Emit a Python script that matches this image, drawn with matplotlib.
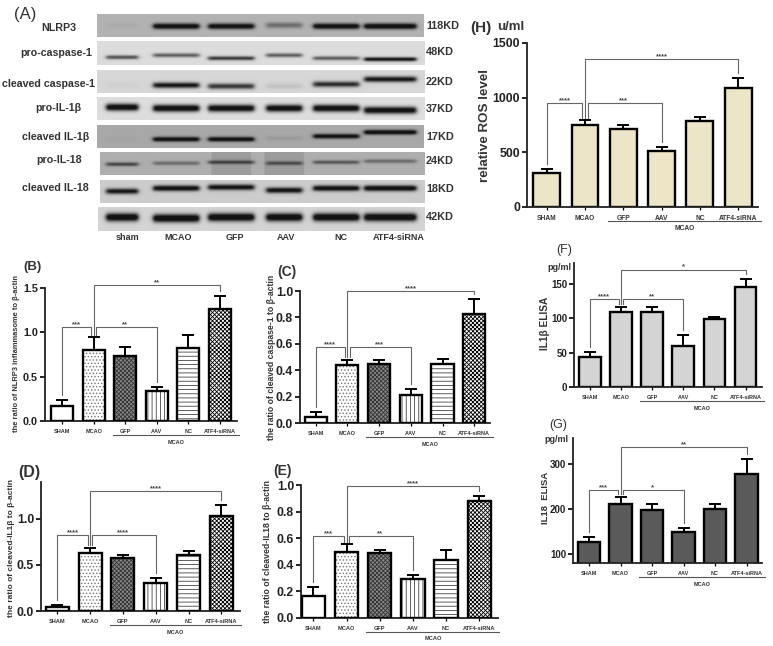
import numpy as np
import matplotlib
matplotlib.use('Agg')
import matplotlib.pyplot as plt

plt.rcParams['font.family'] = ['Liberation Sans', 'DejaVu Sans']
plt.rcParams['hatch.linewidth'] = 0.6

W, H = 773, 646
DARK = '#222222'
TXT = '#333333'

groups = ['SHAM', 'MCAO', 'GFP', 'AAV', 'NC', 'ATF4-siRNA']
lanes = ['sham', 'MCAO', 'GFP', 'AAV', 'NC', 'ATF4-siRNA']

# bar heights and top of the error bars
b_vals = [0.165, 0.80, 0.73, 0.335, 0.82, 1.265]
b_tops = [0.235, 0.945, 0.84, 0.38, 0.975, 1.41]
c_vals = [0.043, 0.437, 0.444, 0.215, 0.444, 0.826]
c_tops = [0.08, 0.48, 0.475, 0.26, 0.487, 0.94]
d_vals = [0.047, 0.63, 0.576, 0.304, 0.612, 1.03]
d_tops = [0.06, 0.685, 0.605, 0.36, 0.65, 1.145]
e_vals = [0.168, 0.495, 0.485, 0.29, 0.435, 0.882]
e_tops = [0.236, 0.555, 0.51, 0.324, 0.513, 0.92]
h_vals = [313, 753, 713, 516, 789, 1087]
h_tops = [343, 792, 750, 549, 822, 1178]
f_vals = [44, 108.6, 108.6, 59.4, 98.4, 145.6]
f_tops = [51, 117, 117, 76, 102, 158]
g_vals = [126, 211, 197, 148, 200, 279]
g_tops = [137, 227, 211.5, 157, 211, 312]

# blot labels, sizes, and how dark the band is in each lane
blot_names = ['NLRP3', 'pro-caspase-1', 'cleaved caspase-1', 'pro-IL-1β',
              'cleaved IL-1β', 'pro-IL-18', 'cleaved IL-18', '']
blot_kd = ['118KD', '48KD', '22KD', '37KD', '17KD', '24KD', '18KD', '42KD']
blot_strength = [
    [0.04, 0.95, 0.92, 0.35, 0.95, 1.0],
    [0.55, 0.5, 0.65, 0.5, 0.5, 0.85],
    [0.03, 0.8, 0.65, 0.08, 0.7, 0.8],
    [0.95, 0.95, 0.92, 0.92, 0.95, 0.9],
    [0.03, 0.95, 0.95, 0.08, 0.9, 1.0],
    [0.55, 0.35, 0.55, 0.5, 0.45, 0.35],
    [0.8, 0.9, 0.85, 0.85, 0.9, 0.95],
    [1.0, 1.0, 1.0, 1.0, 1.0, 1.0],
]

# pixel geometry of the blots
blot_box = [(97, 424, 14, 37), (97, 425, 41, 65), (97, 425, 70, 93), (97, 425, 97, 120),
            (97, 424, 125, 148), (100, 425, 152, 175), (100, 425, 180, 203), (98, 425, 207, 231)]
blot_bg = [0.70, 0.86, 0.84, 0.87, 0.66, 0.68, 0.80, 0.83]
blot_sig = [2.8, 2.0, 2.8, 3.5, 2.3, 1.9, 2.8, 4.0]
blot_y = [
    [25, 26, 26, 25, 26, 26],
    [57, 55, 58, 55, 58, 59],
    [85, 85, 86, 86, 84, 79],
    [107, 108, 108, 108, 108, 110],
    [139, 139, 139, 138, 136, 132],
    [164, 163, 162, 163, 162, 161],
    [191, 188, 187, 190, 188, 188],
    [217, 218, 217, 217, 217, 217],
]
lane_x = [122, 176, 231, 284, 336, 390]
lane_hw = [16, 23, 23, 18, 23, 26]
label_xy = [(59, 28), (56, 53), (49, 84), (58, 108), (56, 137), (59, 160), (55, 188)]
kd_y = [26, 52, 82, 109, 137, 161, 189, 217]
lane_lab_x = [128, 178, 235, 286, 341, 399]


def draw_blot(pix, i):
    x0, x1, y0, y1 = blot_box[i]
    xx, yy = np.meshgrid(np.arange(x0, x1, 0.5), np.arange(y0, y1, 0.5))
    img = np.full(xx.shape, blot_bg[i])
    if i == 5:
        # darker smear behind GFP and AAV
        for cx in lane_x[2:4]:
            img -= 0.07 * (np.abs(xx - cx) < 20)
    dark = np.zeros(xx.shape)
    for cx, hw, s, by in zip(lane_x, lane_hw, blot_strength[i], blot_y[i]):
        xp = 0.5 * (np.tanh((xx - cx + hw) / 2.5) - np.tanh((xx - cx - hw) / 2.5))
        yp = np.exp(-((yy - by) / blot_sig[i]) ** 2)
        dark += 1.3 * s * xp * yp
    img = img - (img - 0.08) * np.clip(dark, 0, 1)
    pix.imshow(img, extent=(x0, x1, y1, y0), cmap='gray', vmin=0, vmax=1,
               aspect='auto', interpolation='bilinear', zorder=1)


def style_bars(ax, x, vals, width, solid):
    if solid is not None:
        ax.bar(x, vals, width, color=solid, edgecolor='black', linewidth=1.7, zorder=2)
        return
    ax.bar(x[0], vals[0], width, color='white', zorder=2)
    ax.bar(x[1], vals[1], width, color='white', edgecolor='#777777', hatch='.....', linewidth=0, zorder=2)
    ax.bar(x[2], vals[2], width, color='#8a8a8a', edgecolor='#333333', hatch='xxxxxxxx', linewidth=0, zorder=2)
    ax.bar(x[3], vals[3], width, color='white', edgecolor='#444444', hatch='||||', linewidth=0, zorder=2)
    ax.bar(x[4], vals[4], width, color='white', edgecolor='#444444', hatch='----', linewidth=0, zorder=2)
    ax.bar(x[5], vals[5], width, color='white', edgecolor='black', hatch='xxxxxxxx', linewidth=0, zorder=2)
    ax.bar(x, vals, width, fill=False, edgecolor='black', linewidth=1.7, zorder=3)


def panel(fig, pix, geo, vals, tops, ylim, yticks, ylab, low, top, stars, solid=None, fmt='%g',
          ticksize=8.8, groupsize=4.0, labsize=6):
    # geo: y axis x, baseline y, y of the top limit, first bar x, spacing, right end (px)
    xa, base, ytop, x0, dx, right = geo
    ax = fig.add_axes([xa / W, 1 - base / H, (right - xa) / W, (base - ytop) / H])
    ax.patch.set_alpha(0)
    ax.set_xlim((xa - x0) / dx, (right - x0) / dx)
    ax.set_ylim(*ylim)
    x = np.arange(6)
    style_bars(ax, x, vals, 0.7, solid)
    up = np.array(tops, dtype=float) - np.array(vals, dtype=float)
    ax.errorbar(x, vals, yerr=[np.zeros(6), up], fmt='none', ecolor='black', elinewidth=1.4,
                capsize=4.2, capthick=1.4, zorder=4, clip_on=False)
    for s in ['top', 'right']:
        ax.spines[s].set_visible(False)
    for s in ['left', 'bottom']:
        ax.spines[s].set_linewidth(1.3)
        ax.spines[s].set_color(DARK)
    ax.set_xticks(x)
    ax.set_xticklabels(groups, fontsize=groupsize, fontweight='bold', color=TXT)
    ax.set_yticks(yticks)
    ax.set_yticklabels([fmt % t for t in yticks], fontsize=ticksize, fontweight='bold', color=DARK)
    ax.tick_params(axis='x', length=2.5, width=0.9, pad=3)
    ax.tick_params(axis='y', length=3.5, width=1.2, pad=1.5)

    # significance brackets
    gap = 5 * (ylim[1] - ylim[0]) / (base - ytop)
    grey = '#666666'
    for xs, ys, star, sx in [
        ([0, 0, 0.93, 0.93], [tops[0] + gap, low, low, tops[1] + gap / 2], stars[0], 0.465),
        ([1.07, 1.07, 3, 3], [tops[1] + gap / 2, low, low, tops[3] + gap], stars[1], 2.0),
        ([1, 1, 5, 5], [tops[1] + gap / 2, top, top, tops[5] + gap], stars[2], 3.0),
    ]:
        ax.plot(xs, ys, color=grey, lw=0.8, clip_on=False, zorder=1)
        ax.annotate(star, (sx, ys[1]), xytext=(0, -0.8), textcoords='offset points', ha='center',
                    va='bottom', fontsize=5.5, fontweight='bold', color='#444444',
                    annotation_clip=False)

    # MCAO group line under the treated bars
    px = lambda v: x0 + dx * v
    pix.plot([px(1.6), min(px(5.6), W - 4)], [base + 14, base + 14], color='#555555', lw=0.8, zorder=2)
    pix.text(px(3.6), base + 21, 'MCAO', ha='center', va='center', fontsize=groupsize,
             fontweight='bold', color=TXT)
    pix.text(ylab[1], ylab[2], ylab[0], rotation=90, ha='center', va='center', fontsize=labsize,
             fontweight='bold', color=TXT)
    return ax


fig = plt.figure(figsize=(W / 100, H / 100), dpi=100)
pix = fig.add_axes([0, 0, 1, 1])
pix.axis('off')

for i in range(8):
    draw_blot(pix, i)
pix.set_xlim(0, W)
pix.set_ylim(H, 0)

for name, (lx, ly) in zip(blot_names, label_xy):
    pix.text(lx, ly, name, ha='center', va='center', fontsize=7.7, fontweight='bold', color=TXT)
for kd, ky in zip(blot_kd, kd_y):
    pix.text(426, ky, kd, ha='left', va='center', fontsize=7.8, fontweight='bold', color=TXT)
for lab, lx in zip(lanes, lane_lab_x):
    pix.text(lx, 237, lab, ha='center', va='center', fontsize=6.5, fontweight='bold', color=TXT)

panel(fig, pix, (45, 421, 288, 62, 31.6, 237), b_vals, b_tops, (0, 1.5), [0, 0.5, 1.0, 1.5],
      ('the ratio of NLRP3 inflammasome to β-actin', 17, 353), 1.06, 1.53, ['***', '**', '**'],
      fmt='%.1f', ticksize=7.8, labsize=5.4)
panel(fig, pix, (300, 423, 291, 315.7, 31.7, 490), c_vals, c_tops, (0, 1.0), [0, 0.2, 0.4, 0.6, 0.8, 1.0],
      ('the ratio of cleaved caspase-1 to β-actin', 272, 357), 0.576, 1.0, ['****', '***', '****'],
      fmt='%.1f', labsize=6.2)
panel(fig, pix, (41, 611, 482, 57.3, 32.8, 240), d_vals, d_tops, (0, 1.40), [0, 0.5, 1.0],
      ('the ratio of cleaved-IL1β to β-actin', 12, 548), 0.826, 1.304, ['****', '****', '****'],
      fmt='%.1f', groupsize=4.1)
panel(fig, pix, (301, 618, 485, 313.3, 33.2, 498), e_vals, e_tops, (0, 1.0), [0, 0.2, 0.4, 0.6, 0.8, 1.0],
      ('the ratio of cleaved-IL18 to β-actin', 267, 552), 0.618, 0.99, ['***', '**', '****'],
      fmt='%.1f', groupsize=4.1, labsize=6.3)
panel(fig, pix, (527, 207, 43, 546.7, 38.3, 758), h_vals, h_tops, (0, 1500), [0, 500, 1000, 1500],
      ('relative ROS level', 485, 125), 947, 1351, ['****', '***', '****'], solid='#ece5c8',
      ticksize=8.8, groupsize=4.8, labsize=9.6)
panel(fig, pix, (574, 387, 263, 590, 31.1, 762), f_vals, f_tops, (0, 180.6), [0, 50, 100, 150],
      ('IL1β ELISA', 545, 323), 128.6, 171, ['****', '**', '*'], solid='#d4d4d4',
      ticksize=7, labsize=7.3)
panel(fig, pix, (573, 563, 438, 589, 31.5, 762), g_vals, g_tops, (80, 358), [100, 200, 300],
      ('IL18  ELISA', 545, 498), 242, 337, ['***', '*', '**'], solid='#5a5a5a',
      ticksize=7, labsize=6.8)

# panel letters and units
for lab, lx, ly, weight, size in [('(A)', 25, 15, 'normal', 12), ('(B)', 33, 267, 'bold', 9.5),
                                  ('(C)', 287, 272, 'bold', 10), ('(D)', 29, 472, 'bold', 11.5),
                                  ('(E)', 283, 471, 'bold', 10), ('(F)', 564, 250, 'normal', 9),
                                  ('(G)', 558, 425, 'normal', 9), ('(H)', 481, 28, 'bold', 11),
                                  ('u/ml', 511, 27, 'bold', 9.5), ('pg/ml', 559, 267, 'bold', 6.5),
                                  ('pg/ml', 556, 440, 'bold', 6.5)]:
    pix.text(lx, ly, lab, ha='center', va='center', fontsize=size, fontweight=weight, color=TXT)

fig.savefig('out.png', dpi=100)
